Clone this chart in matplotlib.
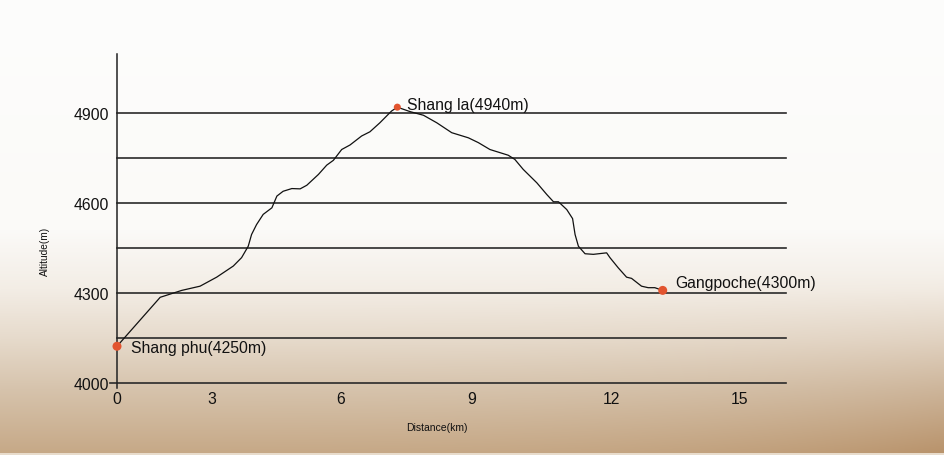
import numpy as np
import matplotlib
matplotlib.use("Agg")
import matplotlib.pyplot as plt

# ---------------- data ----------------
dist_km = [0.00, 1.04, 1.56, 2.00, 2.40, 2.80, 3.00, 3.16, 3.24, 3.36, 3.52, 3.73,
           3.85, 4.00, 4.21, 4.41, 4.57, 4.85, 5.05, 5.21, 5.41, 5.61, 5.89, 6.09,
           6.33, 6.61, 6.75,
           7.06, 7.38, 7.70, 8.06, 8.46, 8.70, 8.98, 9.42, 9.58, 9.78, 10.11, 10.35,
           10.51, 10.63, 10.83, 10.97, 11.03, 11.11, 11.27, 11.47, 11.79, 11.87,
           12.07, 12.27, 12.39, 12.63, 12.79, 12.95, 13.14]
altitude_m = [4124, 4287, 4310, 4324, 4354, 4391, 4419, 4457, 4496, 4529, 4563, 4585,
              4624, 4640, 4649, 4648, 4660, 4696, 4727, 4743, 4779, 4794, 4824, 4838,
              4868, 4907, 4920,
              4905, 4893, 4868, 4835, 4818, 4802, 4779, 4760, 4746, 4713, 4668, 4629,
              4605, 4605, 4579, 4549, 4496, 4457, 4432, 4430, 4435, 4419,
              4385, 4354, 4350, 4324, 4319, 4319, 4310]

place_names = ["Shang phu(4250m)", "Shang la(4940m)", "Gangpoche(4300m)"]
place_dist = [0.0, 6.75, 13.14]
place_alt = [4124, 4920, 4310]

grid_levels = [4000, 4150, 4300, 4450, 4600, 4750, 4900]
ytick_values = [4000, 4300, 4600, 4900]
ytick_labels = ["4000", "4300", "4600", "4900"]
xtick_values = [0.0, 2.29, 5.39, 8.55, 11.90, 15.0]
xtick_labels = ["0", "3", "6", "9", "12", "15"]

# ---------------- figure ----------------
W, H = 944, 456
fig = plt.figure(figsize=(W / 100, H / 100), dpi=100)

# background gradient
bg_ax = fig.add_axes([0, 0, 1, 1], zorder=-10)
bg_ax.set_axis_off()
stops_y = np.array([0, 230, 290, 340, 390, 455]) / (H - 1)
stops_c = np.array([[253, 253, 252], [251, 250, 248], [243, 237, 229],
                    [230, 218, 203], [214, 195, 172], [198, 168, 134]]) / 255.0
yy = np.linspace(0, 1, H)
col = np.stack([np.interp(yy, stops_y, stops_c[:, k]) for k in range(3)], axis=1)
img = np.repeat(col[:, None, :], W, axis=1)
xx = np.linspace(0, 1, W)
vweight = np.clip((yy - 0.6) / 0.4, 0, 1)[:, None]
hweight = (xx ** 4)[None, :]
darken = np.array([14, 22, 28]) / 255.0
img = img - (vweight * hweight)[:, :, None] * darken[None, None, :]
img[-2:, :, :] = np.array([232, 220, 204]) / 255.0
bg_ax.imshow(np.clip(img, 0, 1), aspect="auto", extent=[0, 1, 0, 1], origin="upper")

# main axes: 0 km at x=117px, 4000 m at y=384px
left = 117 / W
right = (117 + 16.1 * 41.53) / W
bottom = 1 - 389 / H
top = 1 - 55 / H
ax = fig.add_axes([left, bottom, right - left, top - bottom])
ax.patch.set_alpha(0)
ax.set_xlim(0, 16.1)
ax.set_ylim(3985, 5097)

for s in ["top", "right", "bottom"]:
    ax.spines[s].set_visible(False)
ax.spines["left"].set_color("#222222")
ax.spines["left"].set_linewidth(1.1)

for lvl in grid_levels:
    xmin = -0.011 if lvl == grid_levels[0] else 0
    ax.axhline(lvl, xmin=xmin, xmax=1, color="#2a2a2a", lw=1.2, clip_on=False, zorder=1)

ax.plot(dist_km, altitude_m, color="#111111", lw=0.9, zorder=3)

sizes = [42, 26, 42]
ax.scatter(place_dist, place_alt, s=sizes, color="#e2542f", zorder=4, clip_on=False,
           edgecolors="none")

txt_font = ["Liberation Sans", "DejaVu Sans"]
offsets = [(10, -1), (7, 2), (9, 6)]
for name, xd, yd, off in zip(place_names, place_dist, place_alt, offsets):
    ax.annotate(name, (xd, yd), xytext=off, textcoords="offset points",
                ha="left", va="center", fontsize=11.3, family=txt_font,
                color="#111111", zorder=5)

ax.set_yticks(ytick_values)
ax.set_yticklabels(ytick_labels, family=txt_font, fontsize=11.3, color="#111111")
ax.set_xticks(xtick_values)
ax.set_xticklabels(xtick_labels, family=txt_font, fontsize=11.3, color="#111111")
ax.tick_params(axis="y", length=0, pad=6)
ax.tick_params(axis="x", length=0, pad=2)

narrow = ["Liberation Sans Narrow", "Liberation Sans", "DejaVu Sans"]
fig.text(45 / W, 1 - 251 / H, "Altitude(m)", rotation=90, ha="center", va="center",
         fontsize=7.3, family=narrow, color="#111111")
fig.text(437 / W, 1 - 428 / H, "Distance(km)", ha="center", va="center",
         fontsize=7.5, family=narrow, color="#111111")

fig.savefig("out.png", dpi=100)
